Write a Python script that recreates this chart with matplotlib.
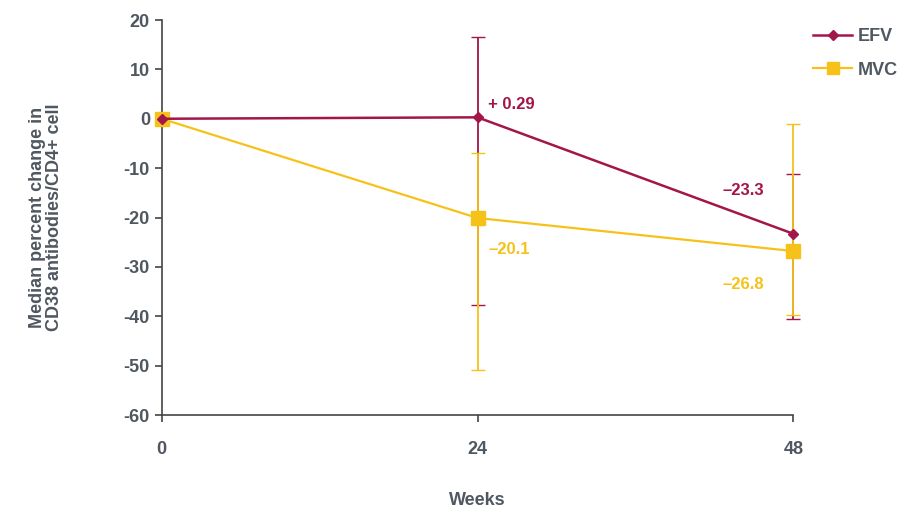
import matplotlib.pyplot as plt
from matplotlib.lines import Line2D
import numpy as np

# datos
weeks = [0, 24, 48]
efv = [0, 0.29, -23.3]
efv_lo = [0, -37.7, -40.5]
efv_hi = [0, 16.6, -11.2]
mvc = [0, -20.1, -26.8]
mvc_lo = [0, -50.9, -39.7]
mvc_hi = [0, -6.9, -1.1]
efv_labels = ['', '+ 0.29', '\u201323.3']
mvc_labels = ['', '\u201320.1', '\u201326.8']
yticks = np.arange(-60, 21, 10)

c_efv = '#A3164A'
c_mvc = '#F6C21A'
c_txt = '#4f5760'

plt.rcParams['font.family'] = ['Liberation Sans Narrow', 'DejaVu Sans Condensed', 'Liberation Sans', 'DejaVu Sans']

fig = plt.figure(figsize=(9.14, 5.13), dpi=100)
ax = fig.add_axes([0.177, 0.191, 0.691, 0.770])

efv = np.array(efv); mvc = np.array(mvc)
efv_err = [efv - np.array(efv_lo), np.array(efv_hi) - efv]
mvc_err = [mvc - np.array(mvc_lo), np.array(mvc_hi) - mvc]

ax.errorbar(weeks, efv, yerr=efv_err, fmt='none', ecolor=c_efv, elinewidth=1.3,
            capsize=5, clip_on=False, zorder=2)
ax.errorbar(weeks, mvc, yerr=mvc_err, fmt='none', ecolor=c_mvc, elinewidth=1.3,
            capsize=5, clip_on=False, zorder=3)
ax.plot(weeks, mvc, color=c_mvc, lw=1.6, marker='s', ms=10, clip_on=False, zorder=4)
ax.plot(weeks, efv, color=c_efv, lw=1.8, marker='D', ms=5, clip_on=False, zorder=5)

# etiquetas de valores
ax.text(24.8, 0.29 + 2.5, efv_labels[1], color=c_efv, fontsize=12, fontweight='bold', va='center')
ax.text(45.8, -14.5, efv_labels[2], color=c_efv, fontsize=12, fontweight='bold', ha='right', va='center')
ax.text(24.8, -26.5, mvc_labels[1], color=c_mvc, fontsize=12, fontweight='bold', va='center')
ax.text(45.8, -33.5, mvc_labels[2], color=c_mvc, fontsize=12, fontweight='bold', ha='right', va='center')

ax.set_xlim(0, 48)
ax.set_ylim(-60, 20)
ax.set_xticks(weeks)
ax.set_yticks(yticks)
ax.set_yticklabels([str(v) for v in yticks])
ax.spines['top'].set_visible(False)
ax.spines['right'].set_visible(False)
for s in ['left', 'bottom']:
    ax.spines[s].set_color('#444444')
    ax.spines[s].set_linewidth(1.2)
ax.tick_params(colors='#444444', labelcolor=c_txt, labelsize=13, length=5, width=1.2)
for lab in ax.get_xticklabels() + ax.get_yticklabels():
    lab.set_fontweight('bold')
ax.tick_params(axis='x', pad=14)

ax.set_xlabel('Weeks', fontsize=13, fontweight='bold', color=c_txt, labelpad=24)
ax.set_ylabel('Median percent change in\nCD38 antibodies/CD4+ cell', fontsize=13,
              fontweight='bold', color=c_txt, labelpad=44, linespacing=1.0)

h = [Line2D([], [], color=c_efv, lw=1.8, marker='D', ms=5),
     Line2D([], [], color=c_mvc, lw=1.6, marker='s', ms=9)]
leg = ax.legend(h, ['EFV', 'MVC'], loc='upper left', bbox_to_anchor=(1.005, 1.02), frameon=False,
                fontsize=13, handlelength=2.2, labelspacing=0.9, handletextpad=0.3)
for t in leg.get_texts():
    t.set_color(c_txt); t.set_fontweight('bold')

fig.savefig('out.png', dpi=100)
